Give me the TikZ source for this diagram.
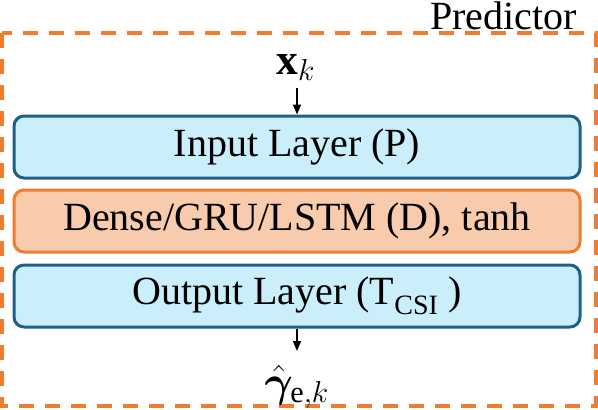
\documentclass[tikz,border=0pt]{standalone}
\usepackage{amsmath}
\usepackage{bm}
\usepackage{graphicx}
\usepackage{fontspec}
\setmainfont{Liberation Serif}
\DeclareMathSizes{24.88}{24.88}{17.28}{14.4}
\usetikzlibrary{arrows.meta}
\definecolor{dorange}{HTML}{ED7D31}
\definecolor{lorange}{HTML}{F8CBAD}
\definecolor{dblue}{HTML}{1F6186}
\definecolor{lblue}{HTML}{CBEEFB}
\tikzset{
  layerbox/.style={draw=dblue, fill=lblue, line width=3pt, rounded corners=10pt, minimum width=566pt, minimum height=62pt, inner sep=0pt, font=\fontsize{40}{48}\selectfont},
  hiddenbox/.style={layerbox, draw=dorange, fill=lorange},
  flow/.style={-{Triangle[length=10pt,width=8pt]}, line width=1.5pt},
  lbl/.style={inner sep=0pt, font=\fontsize{40}{48}\selectfont},
  mathlbl/.style={inner sep=0pt, font=\fontsize{24.88}{30}\selectfont}
}
\begin{document}
\begin{tikzpicture}[x=1pt,y=-1pt]
\useasboundingbox (0,0) rectangle (598,410);
\draw[dorange, line width=4pt, dash pattern=on 15pt off 11pt] (2,33) rectangle (596,406);
\node[lbl, anchor=base east] (pred) at (577,29) {Predictor};
\node[layerbox] (inp) at (297,147) {Input Layer (P)};
\node[hiddenbox] (hid) at (297,221) {Dense/GRU/LSTM (D), tanh};
\node[layerbox] (out) at (297,296) {Output Layer (T\textsubscript{\fontsize{28}{30}\selectfont CSI} )};
\node[mathlbl, anchor=base] (xk) at (296,74) {\scalebox{1.75}{$\mathbf{x}_{k}$}};
\node[mathlbl, anchor=base] (gam) at (297,396) {\scalebox{1.75}{$\bm{\hat{\gamma}}_{\mathrm{e},k}$}};
\coordinate (xa) at (297,88);
\coordinate (ga) at (297,351);
\draw[flow] (xa) -- (inp.north);
\draw[flow] (out.south) -- (ga);
\end{tikzpicture}
\end{document}
